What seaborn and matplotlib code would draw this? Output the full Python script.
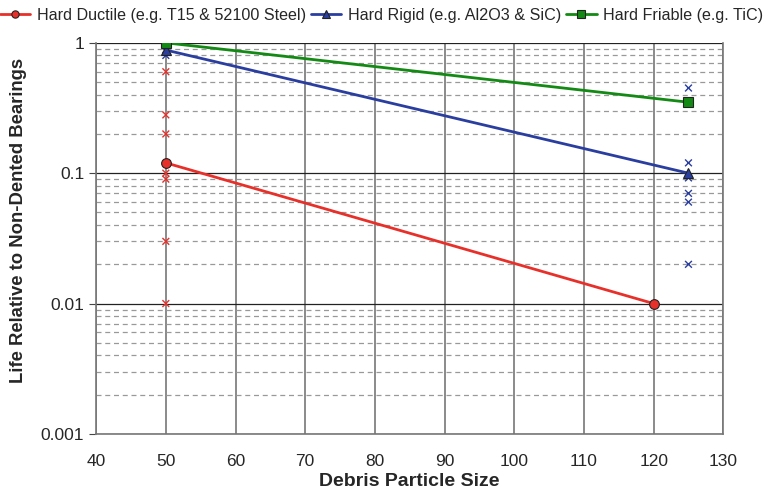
import numpy as np
import pandas as pd
import seaborn as sns
import matplotlib
matplotlib.use("Agg")
import matplotlib.pyplot as plt
from matplotlib.ticker import LogLocator, FixedLocator, NullFormatter

sns.set_style("white")
plt.rcParams['font.family'] = ['Liberation Sans', 'DejaVu Sans']

# fitted lines
series_names = ["Hard Ductile (e.g. T15 & 52100 Steel)",
                "Hard Rigid (e.g. Al2O3 & SiC)",
                "Hard Friable (e.g. TiC)"]
ductile_x = [50, 120]
ductile_y = [0.12, 0.01]
rigid_x = [50, 125]
rigid_y = [0.88, 0.10]
friable_x = [50, 125]
friable_y = [1.0, 0.35]

# individual test points
ductile_pts_x = [50, 50, 50, 50, 50, 50, 50]
ductile_pts_y = [0.60, 0.28, 0.20, 0.10, 0.09, 0.03, 0.01]
rigid_pts_x = [50, 50, 125, 125, 125, 125, 125]
rigid_pts_y = [0.80, 0.86, 0.45, 0.12, 0.092, 0.07, 0.06]
rigid_pts_x2 = [125]
rigid_pts_y2 = [0.02]

colors = ["#e8302a", "#2a3ea0", "#138a13"]
markers = ["o", "^", "s"]

lines = pd.DataFrame({
    "size": ductile_x + rigid_x + friable_x,
    "life": ductile_y + rigid_y + friable_y,
    "series": [series_names[0]] * 2 + [series_names[1]] * 2 + [series_names[2]] * 2,
})
pts = pd.DataFrame({
    "size": ductile_pts_x + rigid_pts_x + rigid_pts_x2,
    "life": ductile_pts_y + rigid_pts_y + rigid_pts_y2,
    "series": ["d"] * 7 + ["r"] * 8,
})

fig = plt.figure(figsize=(7.63, 4.92), dpi=100)
ax = fig.add_axes([0.126, 0.118, 0.822, 0.795])
ax.set_yscale("log")
ax.set_xlim(40, 130)
ax.set_ylim(0.001, 1)

# grid
ax.yaxis.set_minor_locator(LogLocator(base=10, subs=np.arange(2, 10)))
ax.yaxis.set_minor_formatter(NullFormatter())
ax.grid(which="minor", axis="y", color="#999999", linestyle=(0, (4, 3)), linewidth=0.9)
ax.grid(which="major", axis="y", color="#222222", linewidth=0.9)
ax.xaxis.set_major_locator(FixedLocator(np.arange(40, 131, 10)))
ax.grid(which="major", axis="x", color="#777777", linewidth=1.2)
ax.set_axisbelow(True)

sns.scatterplot(data=pts, x="size", y="life", hue="series",
                palette={"d": "#e8302a", "r": "#2a3ea0"}, marker="x",
                s=24, linewidth=1.0, legend=False, ax=ax, zorder=3)
sns.lineplot(data=lines, x="size", y="life", hue="series", style="series",
             palette=colors, markers=markers, dashes=False, markersize=7,
             markeredgecolor="#222222", markeredgewidth=0.8, linewidth=2.0,
             ax=ax, zorder=4)

for s in ["left", "bottom", "right", "top"]:
    ax.spines[s].set_color("#777777")
    ax.spines[s].set_linewidth(1.2)
ax.spines["top"].set_visible(False)
ax.tick_params(axis="y", which="major", left=True, length=5, color="#444444",
               labelsize=12.5)
ax.tick_params(axis="y", which="minor", left=False)
ax.tick_params(axis="x", labelsize=12.5, bottom=False, pad=11)
ax.set_yticks([0.001, 0.01, 0.1, 1])
ax.set_yticklabels(["0.001", "0.01", "0.1", "1"])

ax.set_xlabel("Debris Particle Size", fontsize=14, fontweight="bold", labelpad=3)
ax.set_ylabel("Life Relative to Non-Dented Bearings", fontsize=13.3,
              fontweight="bold")
ax.yaxis.set_label_coords(-0.11, 0.547)

ax.legend(loc="lower center", bbox_to_anchor=(0.455, 1.035), ncol=3, frameon=False,
          fontsize=11.6, handlelength=1.9, handletextpad=0.4, columnspacing=0.3,
          borderaxespad=0, markerscale=0.75)

plt.savefig("out.png", dpi=100)
